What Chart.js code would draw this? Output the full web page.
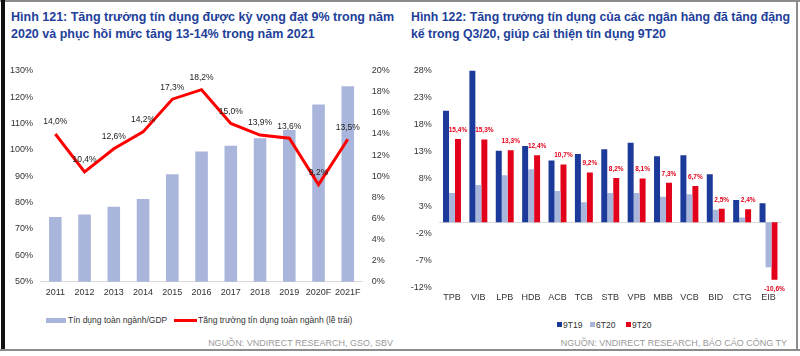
<!DOCTYPE html>
<html><head><meta charset="utf-8">
<script src="https://cdn.jsdelivr.net/npm/chart.js@4/dist/chart.umd.min.js"></script>
<style>
body{margin:0;width:800px;height:356px;background:#fff;position:relative;overflow:hidden;font-family:"Liberation Sans",Arial,sans-serif;}
.abs{position:absolute}
.title{color:#22409a;font-weight:bold;font-size:12.5px;line-height:17.2px;white-space:nowrap}
.src{color:#9a9a9a;font-size:9px;white-space:nowrap;line-height:10px}
.leg{font-size:8.5px;color:#333;white-space:nowrap;line-height:10px}
</style></head>
<body>
<div class="abs" style="left:0;top:0;width:800px;height:2px;background:#8c8c8c"></div>
<div class="abs" style="left:1px;top:0;width:4px;height:351px;background:#111"></div>
<div class="abs" style="left:0;top:349px;width:800px;height:2px;background:#8c8c8c"></div>
<div class="abs" style="left:796px;top:0;width:2px;height:351px;background:#8c8c8c"></div>

<div class="abs title" style="left:11px;top:8.7px">Hình 121: Tăng trưởng tín dụng được kỳ vọng đạt 9% trong năm<br>2020 và phục hồi mức tăng 13-14% trong năm 2021</div>
<div class="abs title" style="left:411px;top:8.7px;font-size:12.3px">Hình 122: Tăng trưởng tín dụng của các ngân hàng đã tăng đặng<br>kế trong Q3/20, giúp cải thiện tín dụng 9T20</div>

<canvas id="c1" class="abs" style="left:0;top:55px"></canvas>
<canvas id="c2" class="abs" style="left:400px;top:55px"></canvas>

<div class="abs" style="left:46px;top:317.5px;width:20px;height:5px;background:#a9b5da"></div>
<div class="abs leg" style="left:68px;top:315px">Tín dụng toàn ngành/GDP</div>
<div class="abs" style="left:174px;top:318.5px;width:23px;height:3px;background:#ff0000"></div>
<div class="abs leg" style="left:198px;top:315px">Tăng trưởng tín dụng toàn ngành (lề trái)</div>

<div class="abs" style="left:557px;top:321.5px;width:5px;height:5px;background:#1c3a99"></div>
<div class="abs leg" style="left:563px;top:319.5px">9T19</div>
<div class="abs" style="left:590px;top:321.5px;width:5px;height:5px;background:#a8b6dc"></div>
<div class="abs leg" style="left:596px;top:319.5px">6T20</div>
<div class="abs" style="left:626px;top:321.5px;width:5px;height:5px;background:#e3001b"></div>
<div class="abs leg" style="left:632px;top:319.5px">9T20</div>

<div class="abs src" style="right:407px;top:338px">NGUỒN: VNDIRECT RESEARCH, GSO, SBV</div>
<div class="abs src" style="right:13px;top:338px">NGUỒN: VNDIRECT RESEARCH, BÁO CÁO CÔNG TY</div>

<script>
// ---- Data: Hình 121 ----
const years = ['2011','2012','2013','2014','2015','2016','2017','2018','2019','2020F','2021F'];
const creditToGDP = [74.5,75.5,78.4,81.4,90.7,99.4,101.5,104.4,107.5,117.2,124.1];
const creditGrowth = [14.0,10.4,12.6,14.2,17.3,18.2,15.0,13.9,13.6,9.2,13.5];
const leftAxisRange = [50,130,10];
const rightAxisRange = [0,20,2];

// ---- Data: Hình 122 ----
const banks = ['TPB','VIB','LPB','HDB','ACB','TCB','STB','VPB','MBB','VCB','BID','CTG','EIB'];
const g9T19 = [20.6,28.4,13.2,14.1,11.4,12.6,13.5,14.7,12.2,12.4,8.9,4.1,3.5];
const g6T20 = [5.4,6.9,8.7,9.8,5.8,3.7,5.4,5.4,4.7,5.2,2.3,0.9,-8.3];
const g9T20 = [15.4,15.3,13.3,12.4,10.7,9.2,8.2,8.1,7.3,6.7,2.5,2.4,-10.6];
const bankAxisRange = [-12,28,5];

const FONT = '"Liberation Sans", Arial, sans-serif';
Chart.defaults.font.family = FONT;
Chart.defaults.animation = false;
Chart.defaults.responsive = false;

const fmt = v => v.toFixed(1).replace('.', ',') + '%';

const labelPlugin = {
  id: 'valLabels',
  afterDatasetsDraw(chart, args, opts) {
    const ctx = chart.ctx;
    ctx.save();
    opts.items.forEach(it => {
      const meta = chart.getDatasetMeta(it.dataset);
      const data = chart.data.datasets[it.dataset].data;
      ctx.font = it.font;
      ctx.fillStyle = it.color;
      ctx.textAlign = 'center';
      ctx.textBaseline = 'middle';
      meta.data.forEach((el, i) => {
        const v = data[i];
        const y = v >= 0 ? el.y - it.offset : el.y + it.offset;
        ctx.fillText(fmt(v), el.x, y);
      });
    });
    ctx.restore();
  }
};

const zeroLine = {
  id: 'zeroLine',
  beforeDatasetsDraw(chart, args, opts) {
    if (!opts.enabled) return;
    const y = chart.scales.y.getPixelForValue(0);
    const ctx = chart.ctx;
    ctx.save();
    ctx.strokeStyle = '#d9d9d9';
    ctx.lineWidth = 1;
    ctx.beginPath();
    ctx.moveTo(chart.chartArea.left, Math.round(y) + 0.5);
    ctx.lineTo(chart.chartArea.right, Math.round(y) + 0.5);
    ctx.stroke();
    ctx.restore();
  }
};

function fixW(w){ return s => { s.width = w; }; }
function fixH(h){ return s => { s.height = h; }; }

const c1 = document.getElementById('c1');
c1.width = 400; c1.height = 250;
new Chart(c1, {
  data: {
    labels: years,
    datasets: [
      { type: 'line', label: 'Tăng trưởng tín dụng toàn ngành (lề trái)', data: creditGrowth, yAxisID: 'y1',
        borderColor: '#ff0000', borderWidth: 3, pointRadius: 0, tension: 0, order: 0 },
      { type: 'bar', label: 'Tín dụng toàn ngành/GDP', data: creditToGDP, yAxisID: 'y',
        backgroundColor: '#a9b5da', barPercentage: 0.43, categoryPercentage: 1, order: 1 }
    ]
  },
  options: {
    layout: { padding: { top: 15.7, left: 0, right: 0, bottom: 0 } },
    plugins: {
      legend: { display: false }, tooltip: { enabled: false },
      valLabels: { items: [{ dataset: 0, font: '8.5px ' + FONT, color: '#222', offset: 12 }] },
      zeroLine: { enabled: false }
    },
    scales: {
      x: { grid: { display: false, drawTicks: false }, border: { display: true, color: '#d9d9d9' },
           ticks: { color: '#333', font: { size: 9 }, padding: 5, maxRotation: 0, autoSkip: false },
           afterFit: fixH(23.3) },
      y: { position: 'left', min: leftAxisRange[0], max: leftAxisRange[1],
           grid: { display: false, drawTicks: false }, border: { display: false },
           ticks: { stepSize: leftAxisRange[2], color: '#333', font: { size: 9 }, padding: 7.7, callback: v => v + '%' },
           afterFit: fixW(40.7) },
      y1: { position: 'right', min: rightAxisRange[0], max: rightAxisRange[1],
           grid: { display: false, drawTicks: false }, border: { display: false },
           ticks: { stepSize: rightAxisRange[2], color: '#333', font: { size: 9 }, padding: 9.3, callback: v => v + '%' },
           afterFit: fixW(37.6) }
    }
  },
  plugins: [labelPlugin, zeroLine]
});

const c2 = document.getElementById('c2');
c2.width = 400; c2.height = 260;
new Chart(c2, {
  type: 'bar',
  data: {
    labels: banks,
    datasets: [
      { label: '9T19', data: g9T19, backgroundColor: '#1c3a99' },
      { label: '6T20', data: g6T20, backgroundColor: '#a8b6dc' },
      { label: '9T20', data: g9T20, backgroundColor: '#e3001b' }
    ]
  },
  options: {
    datasets: { bar: { categoryPercentage: 0.68, barPercentage: 1 } },
    layout: { padding: { top: 15.7, left: 0, right: 18.3, bottom: 0 } },
    plugins: {
      legend: { display: false }, tooltip: { enabled: false },
      valLabels: { items: [{ dataset: 2, font: 'bold 6.5px ' + FONT, color: '#e3001b', offset: 9 }] },
      zeroLine: { enabled: true }
    },
    scales: {
      x: { grid: { display: false, drawTicks: false }, border: { display: false },
           ticks: { color: '#333', font: { size: 9 }, padding: 5, maxRotation: 0, autoSkip: false },
           afterFit: fixH(27.7) },
      y: { min: bankAxisRange[0], max: bankAxisRange[1],
           grid: { display: false, drawTicks: false }, border: { display: false },
           ticks: { stepSize: bankAxisRange[2], color: '#333', font: { size: 9 }, padding: 7.1, callback: v => v + '%' },
           afterFit: fixW(38.8) }
    }
  },
  plugins: [labelPlugin, zeroLine]
});
</script>
</body></html>
